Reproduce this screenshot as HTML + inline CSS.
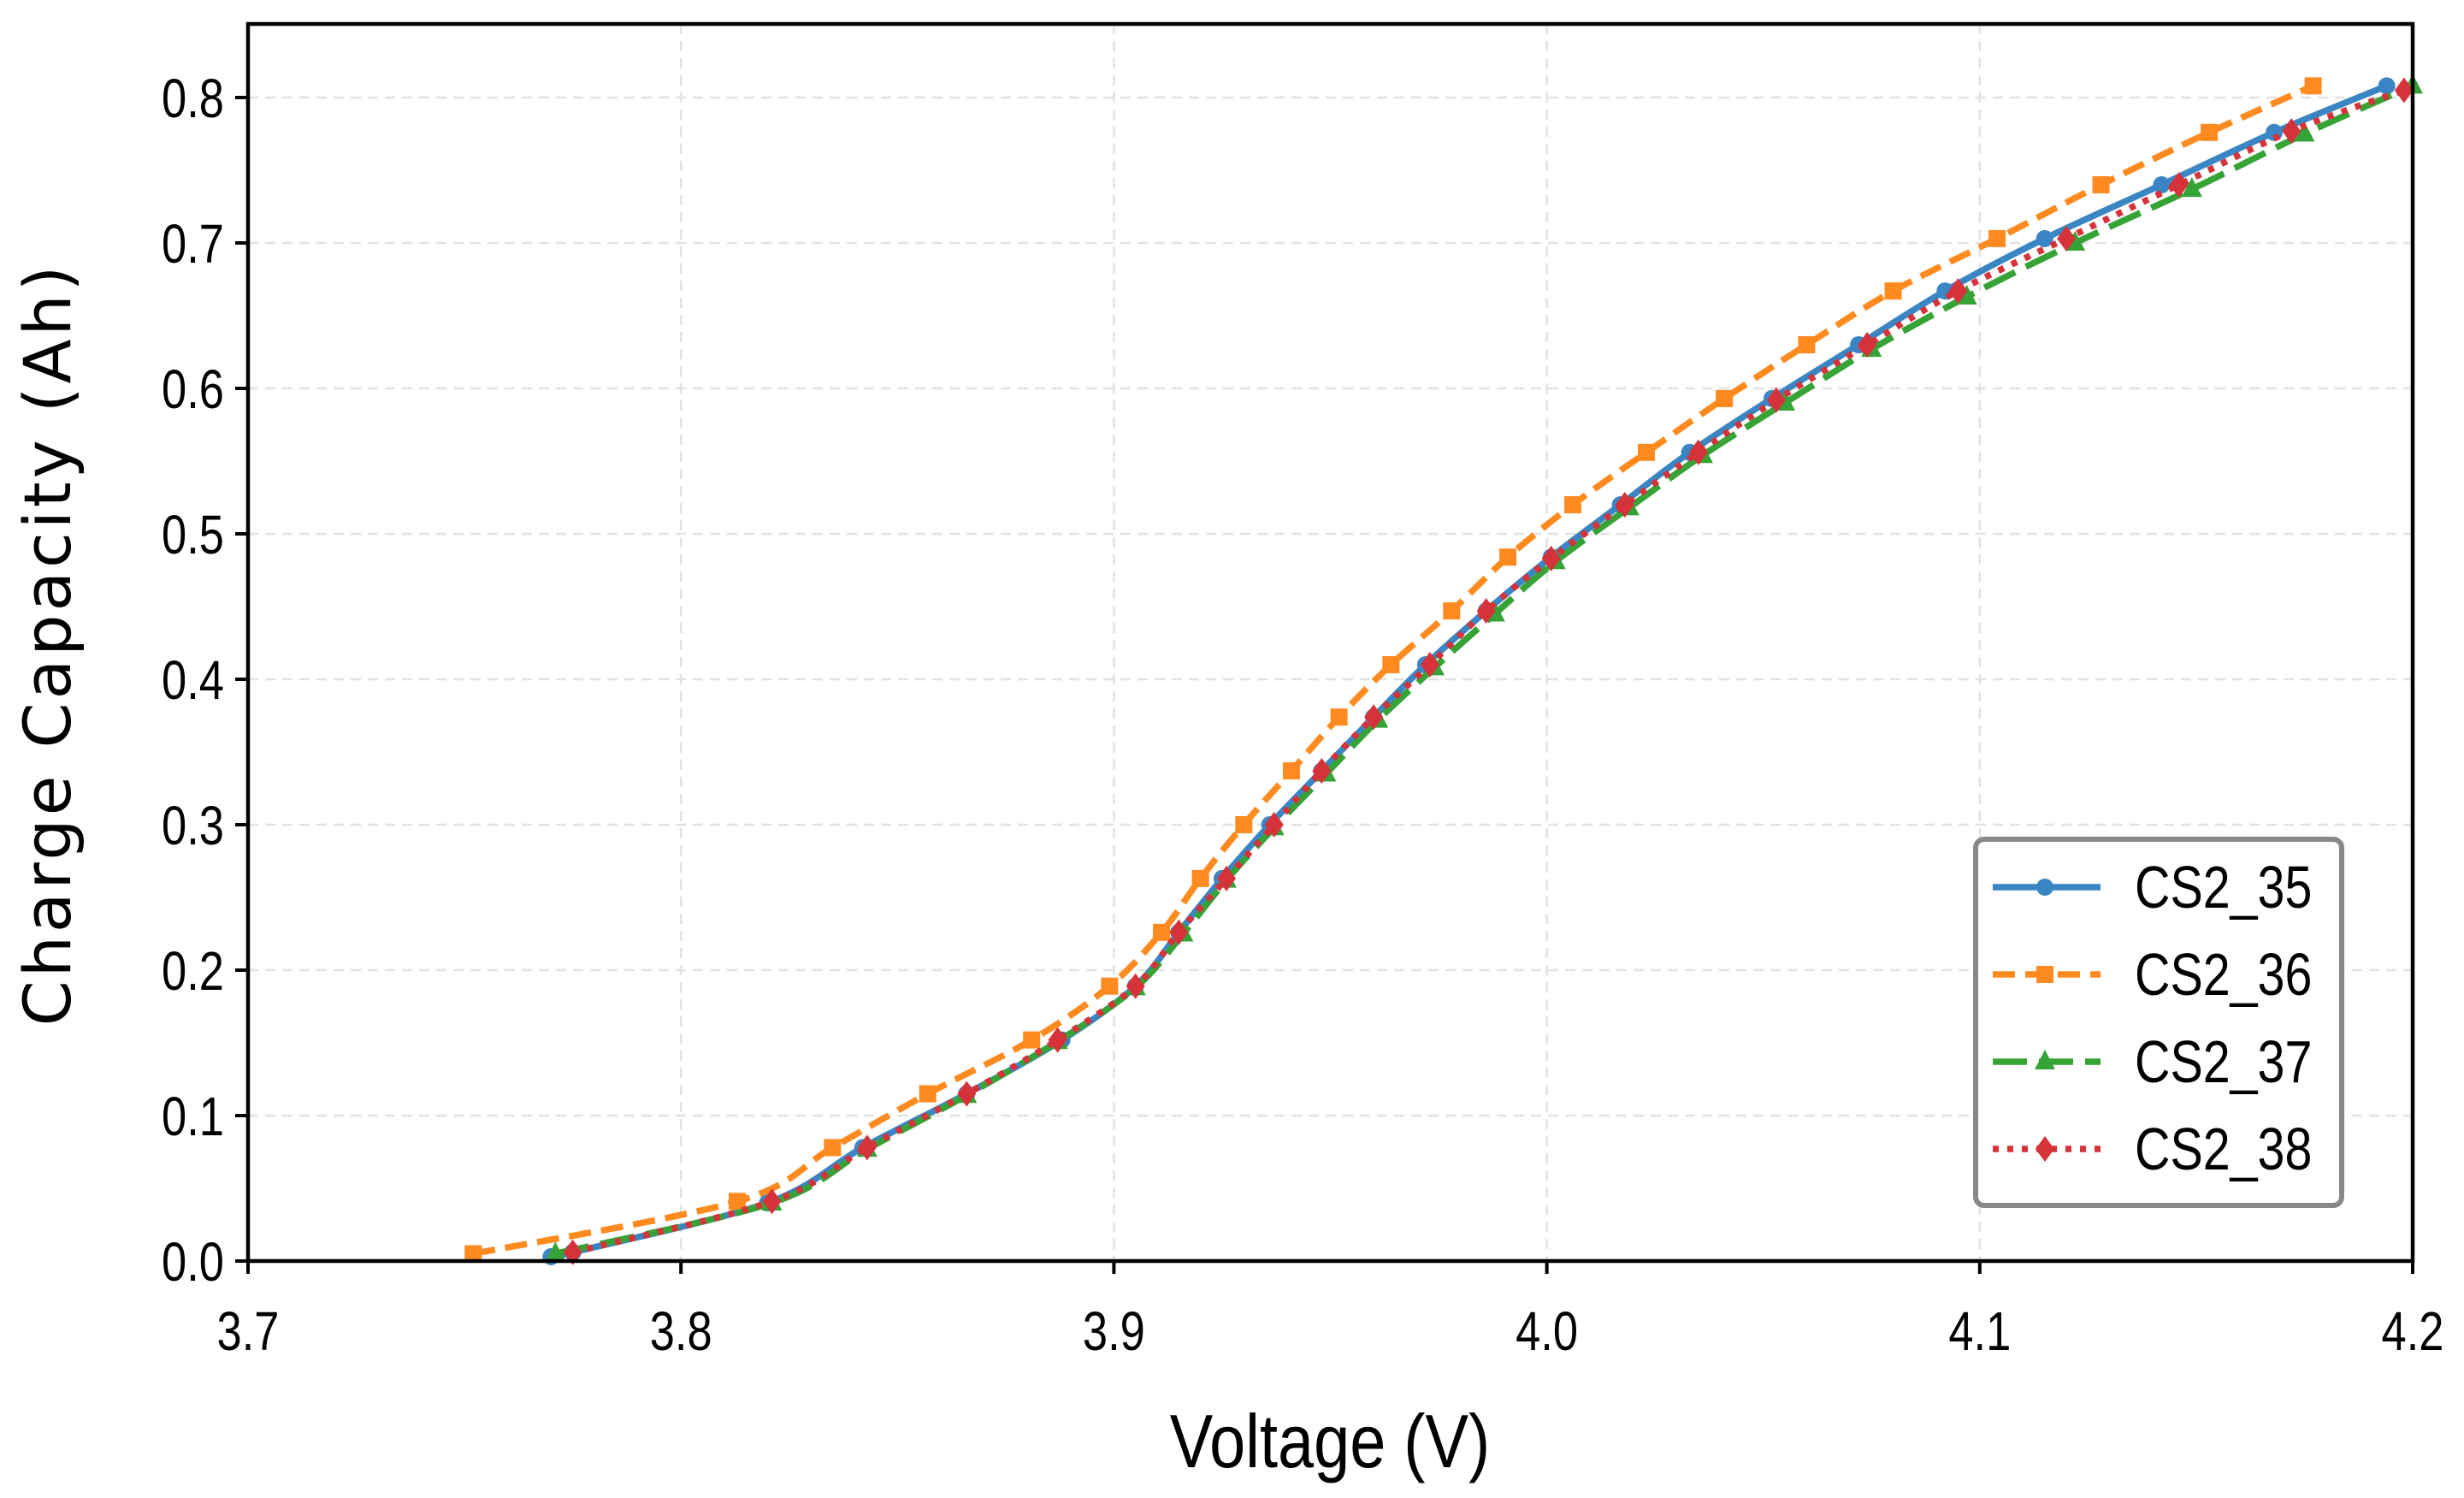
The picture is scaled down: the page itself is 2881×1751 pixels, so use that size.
<!DOCTYPE html>
<html><head><meta charset="utf-8"><style>
html,body{margin:0;padding:0;background:#fff;}
svg{display:block;font-family:"Liberation Sans",sans-serif;}
</style></head><body>
<svg id="chart" width="2881" height="1751" viewBox="0 0 2881 1751" xmlns="http://www.w3.org/2000/svg">
<g id="grid"></g>
<g id="series"></g>
<rect x="290" y="28" width="2531" height="1446" fill="none" stroke="#000" stroke-width="4.5"/>
<g id="ticks"></g>
<text x="1555" y="1715" font-size="88" text-anchor="middle" transform="translate(1555 0) scale(0.86 1) translate(-1555 0)">Voltage (V)</text>
<text x="0" y="0" font-size="76" text-anchor="middle" font-family="DejaVu Sans, sans-serif" letter-spacing="4" transform="translate(82 753) rotate(-90)">Charge Capacity (Ah)</text>
<g id="legend">
<rect x="2310" y="981" width="428" height="428" rx="10" fill="#fff" stroke="#888" stroke-width="6"/>
</g>
</svg>
<script>
const xTicks = [3.7, 3.8, 3.9, 4.0, 4.1, 4.2];
const xTickLabels = ["3.7", "3.8", "3.9", "4.0", "4.1", "4.2"];
const yTicks = [0, 0.1, 0.2, 0.3, 0.4, 0.5, 0.6, 0.7, 0.8];
const yTickLabels = ["0.0", "0.1", "0.2", "0.3", "0.4", "0.5", "0.6", "0.7", "0.8"];
const seriesNames = ["CS2_35", "CS2_36", "CS2_37", "CS2_38"];
const v35 = [3.770,3.775,3.820,3.842,3.866,3.888,3.905,3.915,3.925,3.936,3.948,3.960,3.972,3.986,4.001,4.017,4.033,4.052,4.072,4.092,4.115,4.142,4.168,4.194];
const q35 = [0.003,0.006,0.040,0.078,0.115,0.152,0.189,0.226,0.263,0.300,0.337,0.374,0.410,0.447,0.484,0.520,0.556,0.593,0.630,0.667,0.703,0.740,0.776,0.808];
const v36 = [3.752,3.813,3.835,3.857,3.881,3.899,3.911,3.920,3.930,3.941,3.952,3.964,3.978,3.991,4.006,4.023,4.041,4.060,4.080,4.104,4.128,4.153,4.177];
const q36 = [0.005,0.041,0.078,0.115,0.152,0.189,0.226,0.263,0.300,0.337,0.374,0.410,0.447,0.484,0.520,0.556,0.593,0.630,0.667,0.703,0.740,0.776,0.808];
const v37 = [3.771,3.821,3.843,3.866,3.887,3.905,3.916,3.926,3.937,3.949,3.961,3.974,3.988,4.002,4.019,4.036,4.055,4.075,4.097,4.122,4.149,4.175,4.200];
const q37 = [0.005,0.040,0.077,0.114,0.151,0.188,0.225,0.262,0.298,0.335,0.372,0.408,0.445,0.481,0.518,0.554,0.590,0.627,0.663,0.700,0.737,0.775,0.808];
const v38 = [3.775,3.821,3.843,3.866,3.887,3.905,3.915,3.926,3.937,3.948,3.960,3.973,3.986,4.001,4.018,4.035,4.053,4.074,4.095,4.120,4.146,4.172,4.198];
const q38 = [0.006,0.041,0.078,0.115,0.152,0.189,0.226,0.263,0.300,0.337,0.374,0.410,0.447,0.483,0.520,0.556,0.592,0.630,0.667,0.703,0.740,0.777,0.805];

const NS = "http://www.w3.org/2000/svg";
const L = 290, R = 2821, T = 28, B = 1474;
const xMin = 3.7, xMax = 4.2, yMin = 0;
const yPer = (B - 114) / 0.8;
function xs(v){ return L + (v - xMin) / (xMax - xMin) * (R - L); }
function ys(q){ return B - (q - yMin) * yPer; }
function mk(tag, attrs, parent){ const e = document.createElementNS(NS, tag); for (const k in attrs) e.setAttribute(k, attrs[k]); parent.appendChild(e); return e; }

const grid = document.getElementById("grid");
const ticks = document.getElementById("ticks");
xTicks.forEach((v, i) => {
  const x = xs(v);
  const g = mk("line", {x1:x, x2:x, y1:T, y2:B, stroke:"#e2e2e2", "stroke-width":2.5, "stroke-dasharray":"12 8"}, grid);
  
  
  const t = mk("line", {x1:x, x2:x, y1:B, y2:B+15, stroke:"#000", "stroke-width":4}, ticks);
  
  
  const lb = mk("text", {x:x, y:B+104, "font-size":64, "text-anchor":"middle", transform:`translate(${x} 0) scale(0.82 1) translate(${-x} 0)`}, ticks);
  lb.textContent = xTickLabels[i];
  
  
});
yTicks.forEach((q, i) => {
  const y = ys(q);
  const g = mk("line", {x1:L, x2:R, y1:y, y2:y, stroke:"#e2e2e2", "stroke-width":2.5, "stroke-dasharray":"12 8"}, grid);
  
  
  const t = mk("line", {x1:L-15, x2:L, y1:y, y2:y, stroke:"#000", "stroke-width":4}, ticks);
  
  
  const lb = mk("text", {x:L-28, y:y+23, "font-size":64, "text-anchor":"end", transform:`translate(${L-28} 0) scale(0.82 1) translate(${-(L-28)} 0)`}, ticks);
  lb.textContent = yTickLabels[i];
  
  
});

const styles = [
  {c:"#3a85c3", dash:"", m:"circle"},
  {c:"#ff8a1f", dash:"26 12", m:"square"},
  {c:"#36a336", dash:"40 14", m:"triangle"},
  {c:"#d6323a", dash:"7 10", m:"diamond"}
];
function marker(type, x, y, color, parent){
  let e;
  if (type === "circle") e = mk("circle", {cx:x, cy:y, r:10, fill:color}, parent);
  else if (type === "square") e = mk("rect", {x:x-10, y:y-10, width:20, height:20, fill:color}, parent);
  else if (type === "triangle") e = mk("polygon", {points:`${x},${y-14} ${x+12},${y+9} ${x-12},${y+9}`, fill:color}, parent);
  else e = mk("polygon", {points:`${x},${y-15} ${x+11},${y} ${x},${y+15} ${x-11},${y}`, fill:color}, parent);
  return e;
}
function smoothPath(p){
  let d = `M${p[0][0]},${p[0][1]}`;
  for (let i = 0; i < p.length - 1; i++) {
    const p0 = p[i-1] || p[i], p1 = p[i], p2 = p[i+1], p3 = p[i+2] || p2;
    const c1x = p1[0] + (p2[0]-p0[0])/6, c1y = p1[1] + (p2[1]-p0[1])/6;
    const c2x = p2[0] - (p3[0]-p1[0])/6, c2y = p2[1] - (p3[1]-p1[1])/6;
    d += ` C${c1x},${c1y} ${c2x},${c2y} ${p2[0]},${p2[1]}`;
  }
  return d;
}
const seriesV = [v35, v36, v37, v38];
const seriesQ = [q35, q36, q37, q38];
const sg = document.getElementById("series");
seriesV.forEach((vs, si) => {
  const st = styles[si];
  const g = mk("g", {}, sg);
  
  
  const pts = vs.map((v, i) => [xs(v), ys(seriesQ[si][i])]);
  const line = mk("path", {d:smoothPath(pts), fill:"none", stroke:st.c, "stroke-width":7.5, "stroke-linejoin":"round", "stroke-dasharray":st.dash}, g);
  
  
  vs.forEach((v, i) => {
    const m = marker(st.m, xs(v), ys(seriesQ[si][i]), st.c, g);
    
    
  });
});

const lg = document.getElementById("legend");
seriesNames.forEach((n, i) => {
  const st = styles[i];
  const y = 1037 + i * 102;
  const e = mk("g", {}, lg);
  
  
  const ln = mk("line", {x1:2330, x2:2456, y1:y, y2:y, stroke:st.c, "stroke-width":7.5, "stroke-dasharray":st.dash}, e);
  
  
  const m = marker(st.m, 2391, y, st.c, e);
  
  
  const t = mk("text", {x:2496, y:y+24, "font-size":70, transform:`translate(2496 0) scale(0.82 1) translate(-2496 0)`}, e);
  t.textContent = n;
  
  
});
</script>
</body></html>
